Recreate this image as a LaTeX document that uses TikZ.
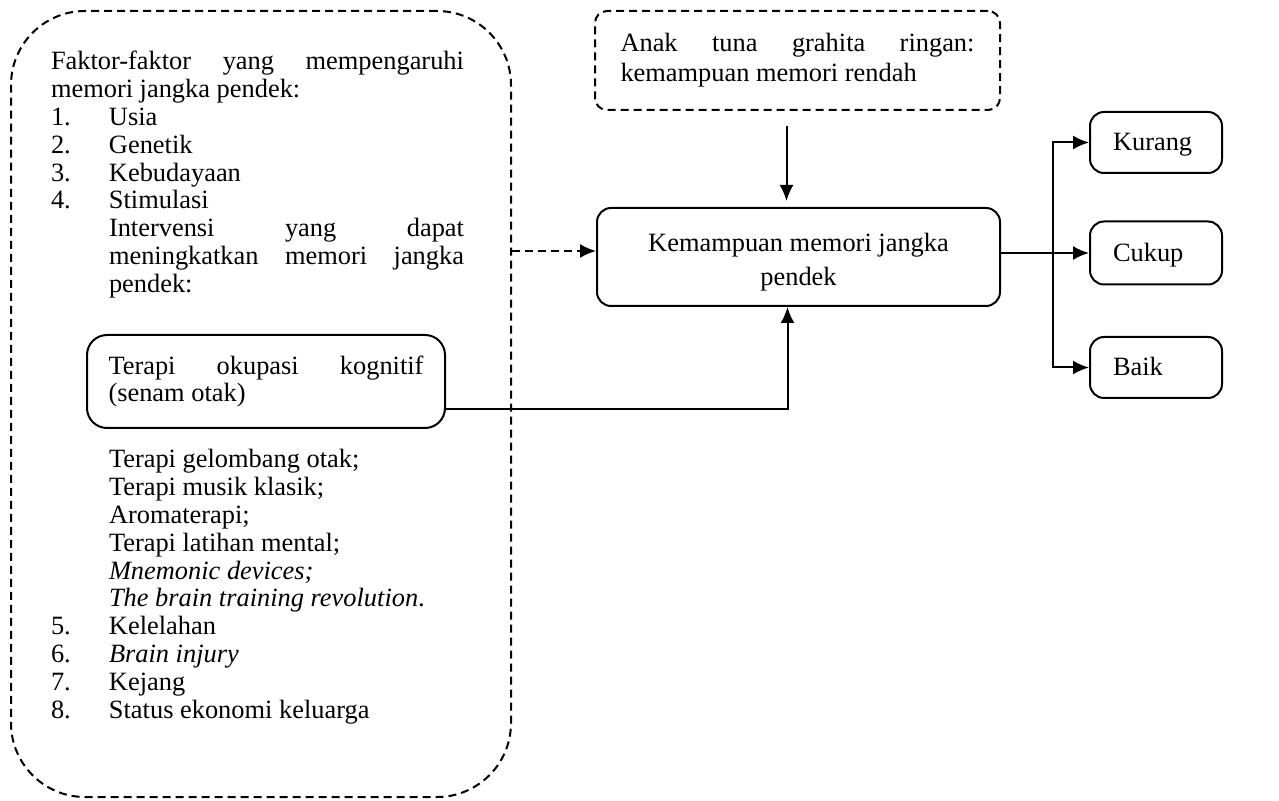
\documentclass[tikz,border=0pt]{standalone}
\usepackage{fontspec}
\setmainfont{Liberation Serif}
\usetikzlibrary{arrows.meta}
\newcommand{\butir}[2]{\makebox[29pt][l]{#1}#2\par}

\begin{document}
\begin{tikzpicture}[x=0.5pt, y=-0.5pt, line width=1pt,
    font=\fontsize{13.2}{13.9}\selectfont,
    kotak/.style={draw, rounded corners=7pt, inner sep=0pt},
    putus/.style={dash pattern=on 4pt off 2.5pt},
    panah/.style={-{Latex[length=8pt,width=7pt]}}]
  \useasboundingbox (0,0) rectangle (1279,801);
  % kotak besar kiri: faktor-faktor
  \node[kotak, putus, rounded corners=37pt, minimum width=250pt, minimum height=393pt] (faktor) at (261,404) {};
  \node[anchor=base west, inner sep=0pt, text width=206.5pt, align=justify] (faktoratas) at (50,70) {%
    Faktor-faktor yang mempengaruhi\linebreak memori jangka pendek:\par
    \butir{1.}{Usia}\butir{2.}{Genetik}\butir{3.}{Kebudayaan}\butir{4.}{Stimulasi}
    {\leftskip=29pt Intervensi yang dapat\linebreak meningkatkan memori jangka\linebreak pendek:\par}};
  \node[kotak, rounded corners=10pt, minimum width=179pt, minimum height=46.5pt, text width=157.5pt, align=justify]
    (terapi) at (266,381.5) {Terapi okupasi kognitif\linebreak (senam otak)};
  \node[anchor=base west, inner sep=0pt, text width=206.5pt, align=justify] (faktorbawah) at (50,468) {%
    {\leftskip=29pt Terapi gelombang otak;\par Terapi musik klasik;\par Aromaterapi;\par
     Terapi latihan mental;\par \textit{Mnemonic devices;}\par \textit{The brain training revolution}.\par}
    \butir{5.}{Kelelahan}\butir{6.}{\textit{Brain injury}}\butir{7.}{Kejang}\butir{8.}{Status ekonomi keluarga}};
  % kotak atas dan tengah
  \node[kotak, putus, rounded corners=6pt, minimum width=202.5pt, minimum height=49.5pt, text width=177pt,
    align=justify, font=\fontsize{13.2}{15}\selectfont] (anak) at (797.5,60.5)
    {Anak tuna grahita ringan:\linebreak kemampuan memori rendah};
  \node[kotak, minimum width=201.5pt, minimum height=49pt, align=center,
    font=\fontsize{13.2}{17}\selectfont] (kem) at (798.5,257) {\rule{0pt}{14pt}Kemampuan memori jangka\\pendek};
  % hasil
  \node[kotak, minimum width=66pt, minimum height=30.5pt, text width=43pt, text depth=1pt] (kurang) at (1156,142.5) {Kurang};
  \node[kotak, minimum width=66pt, minimum height=31.5pt, text width=43pt, text depth=1pt] (cukup) at (1156,253) {Cukup};
  \node[kotak, minimum width=66pt, minimum height=30.5pt, text width=43pt, text depth=1pt] (baik) at (1156,367.5) {Baik};
  % panah
  \coordinate (turun) at ([xshift=-5.5pt,yshift=-7.5pt]anak.south);
  \draw[panah, shorten >=3pt] (turun) -- (turun |- kem.north);
  \coordinate (masuk) at ([yshift=3pt]kem.west);
  \draw[panah, putus] (faktor.east |- masuk) -- (masuk);
  \draw[panah] ([yshift=-14pt]terapi.east) -| ([xshift=-5.5pt]kem.south);
  \coordinate (cabang) at (1053,253);
  \draw[panah] (kem.east |- cukup.west) -- (cukup.west);
  \draw[{Latex[length=8pt,width=7pt]}-{Latex[length=8pt,width=7pt]}] (kurang.west) -| (cabang) |- (baik.west);
\end{tikzpicture}
\end{document}
